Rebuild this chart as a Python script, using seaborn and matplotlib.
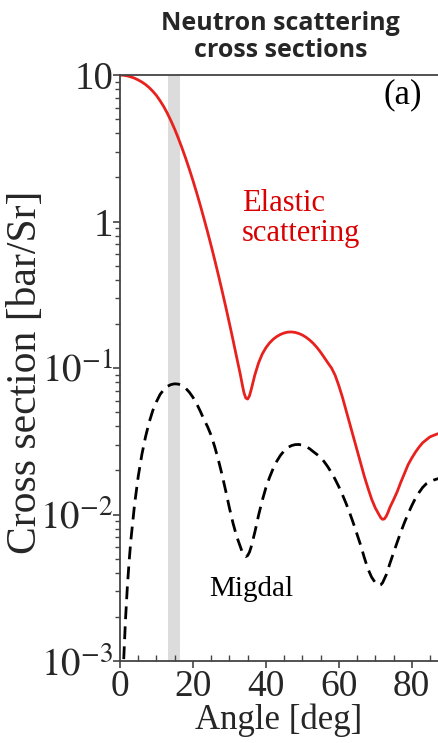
import numpy as np
import pandas as pd
import matplotlib
matplotlib.use("Agg")
import matplotlib.pyplot as plt
import seaborn as sns
from matplotlib.ticker import FixedLocator, MultipleLocator, LogLocator, NullFormatter

# Elastic scattering: angle [deg] and log10 of cross section [bar/Sr]
elastic_angle = [0, 1, 2, 3, 4, 5, 6, 7, 8, 9, 10, 11, 12, 13, 14, 15, 16, 17, 18, 19,
                 20, 21, 22, 23, 24, 25, 26, 27, 28, 29, 30, 31, 32, 33, 33.5, 34, 34.5,
                 35, 35.5, 36, 36.5, 37, 38, 39, 40, 41, 42, 43, 44, 45, 46, 47, 48, 49,
                 50, 51, 52, 53, 54, 55, 56, 57, 58, 59, 60, 61, 62, 63, 64, 65, 66, 67,
                 68, 69, 70, 71, 71.5, 72, 72.5, 73, 73.5, 74, 75, 76, 77, 78, 79, 80, 81,
                 82, 83, 84, 85, 86, 87, 88]
elastic_log10 = [1.000, 0.998, 0.994, 0.987, 0.978, 0.966, 0.952, 0.935, 0.914, 0.889,
                 0.860, 0.824, 0.784, 0.738, 0.686, 0.630, 0.568, 0.502, 0.432, 0.358,
                 0.280, 0.198, 0.112, 0.022, -0.070, -0.166, -0.265, -0.368, -0.474,
                 -0.583, -0.695, -0.810, -0.928, -1.045, -1.110, -1.170, -1.205, -1.212,
                 -1.190, -1.145, -1.095, -1.045, -0.965, -0.905, -0.862, -0.829, -0.804,
                 -0.785, -0.771, -0.761, -0.755, -0.754, -0.757, -0.764, -0.775, -0.790,
                 -0.809, -0.832, -0.860, -0.892, -0.928, -0.965, -1.000, -1.050, -1.120,
                 -1.200, -1.290, -1.380, -1.470, -1.560, -1.650, -1.740, -1.820, -1.895,
                 -1.955, -2.000, -2.022, -2.033, -2.030, -2.012, -1.985, -1.952, -1.900,
                 -1.845, -1.780, -1.720, -1.660, -1.615, -1.575, -1.540, -1.510, -1.490,
                 -1.470, -1.460, -1.450, -1.445]

# Migdal: angle [deg] and log10 of cross section [bar/Sr]
migdal_angle = [0.6, 1.0, 1.5, 2, 2.5, 3, 4, 5, 6, 7, 8, 9, 10, 11, 12, 13, 14, 15, 16,
                17, 18, 19, 20, 21, 22, 23, 24, 25, 26, 27, 28, 29, 30, 31, 32, 33, 33.5,
                34, 34.5, 35, 35.5, 36, 37, 38, 39, 40, 41, 42, 43, 44, 45, 46, 47, 48,
                49, 50, 51, 52, 53, 54, 55, 56, 57, 58, 59, 60, 61, 62, 63, 64, 65, 66,
                67, 68, 69, 70, 70.5, 71, 71.5, 72, 73, 74, 75, 76, 77, 78, 79, 80, 81,
                82, 83, 84, 85, 86, 87, 88]
migdal_log10 = [-3.26, -3.00, -2.72, -2.50, -2.32, -2.17, -1.93, -1.74, -1.59, -1.47,
                -1.37, -1.29, -1.23, -1.18, -1.148, -1.125, -1.113, -1.108, -1.110,
                -1.120, -1.138, -1.165, -1.200, -1.243, -1.294, -1.350, -1.400, -1.460,
                -1.540, -1.630, -1.730, -1.840, -1.955, -2.060, -2.150, -2.220, -2.255,
                -2.278, -2.287, -2.280, -2.257, -2.218, -2.118, -2.005, -1.905, -1.818,
                -1.747, -1.686, -1.636, -1.596, -1.566, -1.543, -1.530, -1.523, -1.522,
                -1.526, -1.536, -1.551, -1.571, -1.590, -1.610, -1.640, -1.675, -1.715,
                -1.760, -1.810, -1.865, -1.925, -1.990, -2.060, -2.135, -2.210, -2.295,
                -2.372, -2.428, -2.465, -2.478, -2.484, -2.480, -2.466, -2.412, -2.335,
                -2.262, -2.190, -2.120, -2.055, -1.995, -1.940, -1.890, -1.850, -1.815,
                -1.790, -1.775, -1.765, -1.757, -1.750]

# Shaded angular window [deg]
band = [13.2, 16.4]

y_ticks = [1e-3, 1e-2, 1e-1, 1, 10]
y_tick_labels = [r"$10^{-3}$", r"$10^{-2}$", r"$10^{-1}$", "1", "10"]
x_ticks = [0, 20, 40, 60, 80]

sns.set_style("ticks")
plt.rcParams["font.family"] = ["Liberation Serif", "DejaVu Serif"]
plt.rcParams["mathtext.fontset"] = "stix"

elastic_df = pd.DataFrame({"angle": elastic_angle,
                           "xs": np.power(10.0, elastic_log10)})
migdal_df = pd.DataFrame({"angle": migdal_angle,
                          "xs": np.power(10.0, migdal_log10)})

fig = plt.figure(figsize=(4.38, 7.43), dpi=100)
ax = fig.add_axes([120 / 438, 1 - 661 / 743, 318 / 438, (661 - 75) / 743])

ax.axvspan(band[0], band[1], color="#dcdcdc", lw=0, zorder=0)

sns.lineplot(data=elastic_df, x="angle", y="xs", ax=ax, color="#e8211e", lw=2.0,
             sort=False, estimator=None)
sns.lineplot(data=migdal_df, x="angle", y="xs", ax=ax, color="black", lw=2.0,
             sort=False, estimator=None)
ax.lines[-1].set_linestyle((0, (4.6, 2.6)))

ax.set_yscale("log")
ax.set_ylim(1e-3, 10)
ax.set_xlim(0, 87.2)

ax.yaxis.set_major_locator(FixedLocator(y_ticks))
ax.set_yticklabels(y_tick_labels)
ax.yaxis.set_minor_locator(LogLocator(base=10, subs=np.arange(2, 10)))
ax.yaxis.set_minor_formatter(NullFormatter())
ax.xaxis.set_major_locator(FixedLocator(x_ticks))
ax.xaxis.set_minor_locator(MultipleLocator(5))

spine_color = "#444444"
for side in ["left", "bottom", "top"]:
    ax.spines[side].set_color(spine_color)
    ax.spines[side].set_linewidth(1.3)
ax.spines["right"].set_visible(False)

ax.tick_params(axis="y", which="major", direction="out", length=5, width=1.2,
               color=spine_color, labelsize=28, pad=0)
ax.tick_params(axis="y", which="minor", direction="out", length=3.5, width=1.0,
               color=spine_color)
ax.tick_params(axis="x", which="major", direction="out", length=5, width=1.2,
               color=spine_color, labelsize=27, pad=1)
ax.tick_params(axis="x", which="minor", direction="in", length=4, width=1.0,
               color=spine_color, top=False)

ax.set_xlabel("Angle [deg]", fontsize=25, labelpad=0)
ax.set_ylabel("")
fig.text(26 / 438, 1 - 372 / 743, "Cross section [bar/Sr]", fontsize=30,
         rotation=90, ha="center", va="center")

ax.text(33.4, 1.05, "Elastic\nscattering", color="#d80000", fontsize=22,
        ha="left", va="center", linespacing=1.05)
ax.text(36.0, 0.0031, "Migdal", color="black", fontsize=21, ha="center", va="center")
ax.text(77.5, 7.3, "(a)", color="black", fontsize=25, ha="center", va="center")

fig.text(0.64, 0.985, "Neutron scattering\ncross sections", fontsize=18,
         fontweight="bold", family=["Open Sans", "DejaVu Sans"], ha="center", va="top",
         linespacing=1.08)

fig.savefig("out.png", dpi=100)
